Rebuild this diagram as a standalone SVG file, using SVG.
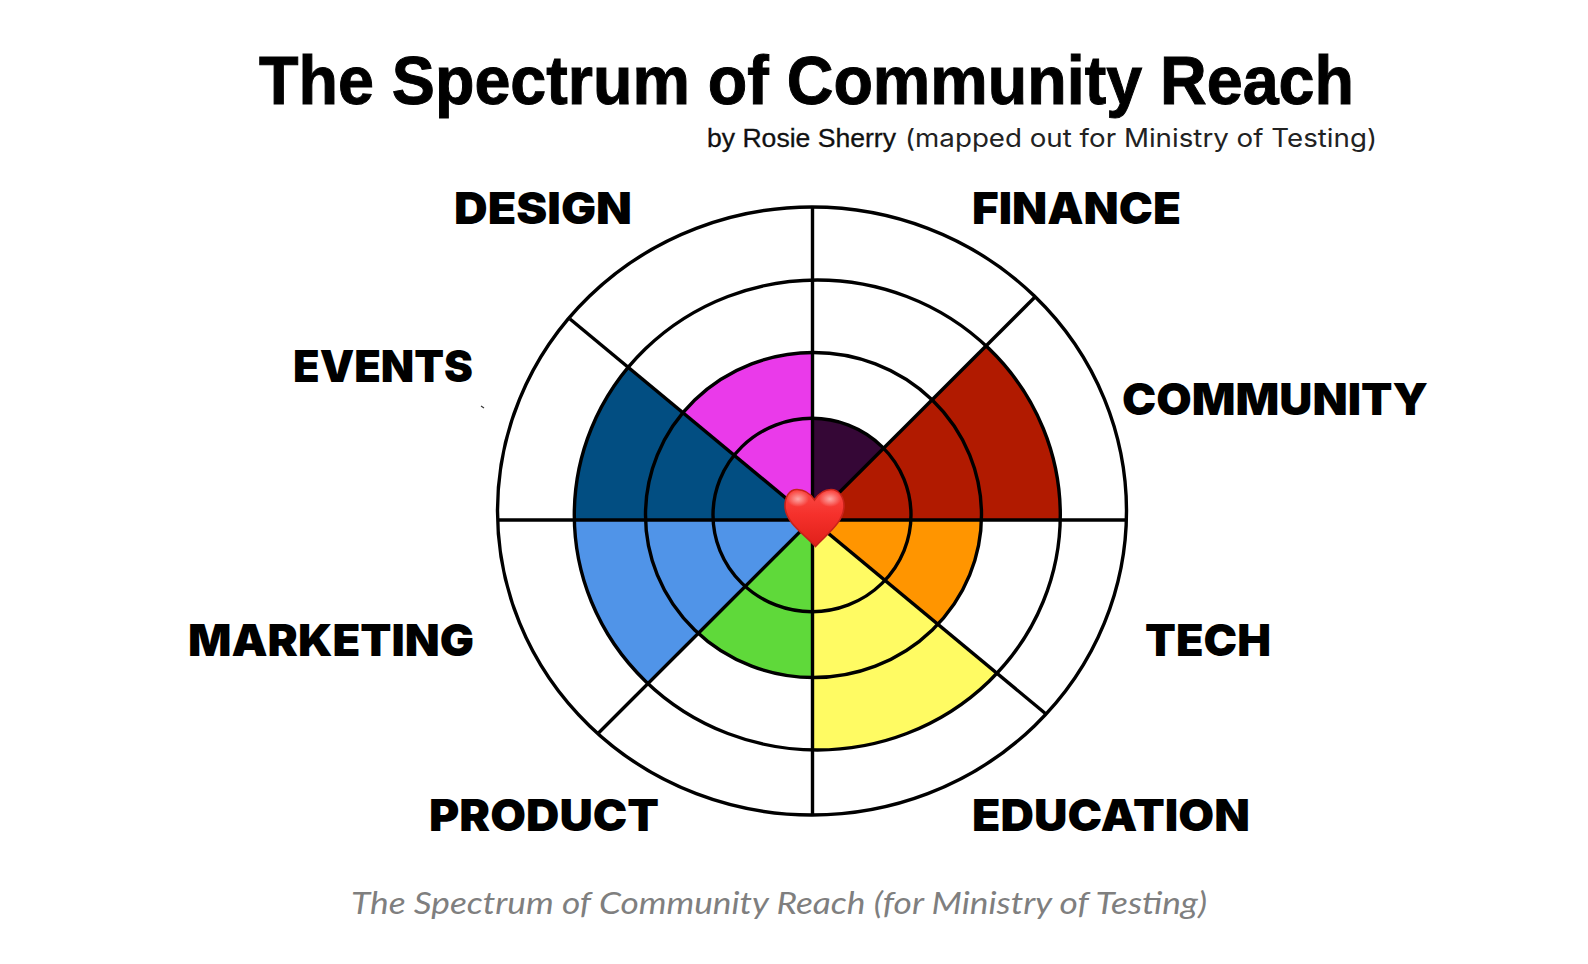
<svg xmlns="http://www.w3.org/2000/svg" width="1588" height="964" viewBox="0 0 1588 964">
<style>
.title{font-family:"Liberation Sans",Arial,sans-serif;font-weight:700;font-size:69px;fill:#000;stroke:#000;stroke-width:1px}
.by{font-family:"Liberation Sans",Arial,sans-serif;font-size:25px;fill:#111;stroke:#111;stroke-width:.3px}
.sub{font-family:"Inter","Liberation Sans",sans-serif;font-size:25px;font-weight:400;fill:#222}
.lab{font-family:"Inter","Liberation Sans",sans-serif;font-weight:900;font-size:44px;fill:#000}
.cap{font-family:"Lato","Liberation Sans",sans-serif;font-style:italic;font-size:31px;fill:#7f7f7f}
.ring{fill:none;stroke:#000;stroke-width:3.4}
.spoke{stroke:#000;stroke-width:3.4;fill:none}
</style>
<defs>
<clipPath id="wFinance"><polygon points="812,520 812,100 1232,100"/></clipPath>
<clipPath id="wCommunity"><polygon points="812,520 1232,100 1400,520"/></clipPath>
<clipPath id="wTech"><polygon points="812,520 1400,520 1280,908"/></clipPath>
<clipPath id="wEducation"><polygon points="812,520 1280,908 812,960"/></clipPath>
<clipPath id="wProduct"><polygon points="812,520 812,960 383,948"/></clipPath>
<clipPath id="wMarketing"><polygon points="812,520 383,948 300,520"/></clipPath>
<clipPath id="wEvents"><polygon points="812,520 300,520 328,118"/></clipPath>
<clipPath id="wDesign"><polygon points="812,520 328,118 812,100"/></clipPath>
<linearGradient id="heartFill" x1="0" y1="0" x2="0" y2="1">
<stop offset="0" stop-color="#fb4a45"/><stop offset=".45" stop-color="#f5302b"/><stop offset="1" stop-color="#e0201a"/>
</linearGradient>
<radialGradient id="heartGlow">
<stop offset="0" stop-color="#fff" stop-opacity=".55"/><stop offset="1" stop-color="#fff" stop-opacity="0"/>
</radialGradient>
</defs>
<rect width="1588" height="964" fill="#fff"/>
<g id="title">
<text class="title" x="259" y="104" textLength="1095" lengthAdjust="spacingAndGlyphs">The Spectrum of Community Reach</text>
<text class="by" x="707" y="147" textLength="189" lengthAdjust="spacingAndGlyphs">by Rosie Sherry</text>
<text class="sub" x="905" y="147" textLength="472" lengthAdjust="spacingAndGlyphs">(mapped out for Ministry of Testing)</text>
</g>
<g id="sectors">
<ellipse cx="812" cy="515" rx="99" ry="96.7" fill="#350736" clip-path="url(#wFinance)"/>
<ellipse cx="817.3" cy="515" rx="243" ry="235" fill="#b11a00" clip-path="url(#wCommunity)"/>
<ellipse cx="813.5" cy="515" rx="168" ry="162.5" fill="#ff9500" clip-path="url(#wTech)"/>
<ellipse cx="817.3" cy="515" rx="243" ry="235" fill="#fffb63" clip-path="url(#wEducation)"/>
<ellipse cx="813.5" cy="515" rx="168" ry="162.5" fill="#5fd93a" clip-path="url(#wProduct)"/>
<ellipse cx="817.3" cy="515" rx="243" ry="235" fill="#5094e8" clip-path="url(#wMarketing)"/>
<ellipse cx="817.3" cy="515" rx="243" ry="235" fill="#024e82" clip-path="url(#wEvents)"/>
<ellipse cx="813.5" cy="515" rx="168" ry="162.5" fill="#ea3aea" clip-path="url(#wDesign)"/>
</g>
<g id="rings">
<ellipse class="ring" cx="812" cy="511" rx="314.5" ry="304"/>
<ellipse class="ring" cx="817.3" cy="515" rx="243" ry="235"/>
<ellipse class="ring" cx="813.5" cy="515" rx="168" ry="162.5"/>
<ellipse class="ring" cx="812" cy="515" rx="99" ry="96.7"/>
</g>
<g id="connectors">
<line class="spoke" x1="812.5" y1="207" x2="812.5" y2="815"/>
<line class="spoke" x1="497" y1="520" x2="1127" y2="520"/>
<line class="spoke" x1="1035" y1="297" x2="597.5" y2="734"/>
<line class="spoke" x1="570" y1="319" x2="1046" y2="714"/>
</g>
<g id="heart">
<path d="M814.5 500C810 493 803 489.5 797 489.5C789 489.5 785 497 785 506C785 522 804 534 815.5 546.5C827 534 844 522 844 506C844 497 839 489.5 831 489.5C825 489.5 819 493 814.5 500Z" fill="url(#heartFill)" stroke="#c8221a" stroke-width="1.6"/>
<ellipse cx="798" cy="499" rx="11" ry="8" fill="url(#heartGlow)"/>
<ellipse cx="830" cy="499" rx="11" ry="8" fill="url(#heartGlow)"/>
</g>
<g id="design"><text class="lab" x="454" y="224" textLength="178" lengthAdjust="spacingAndGlyphs">DESIGN</text></g>
<g id="finance"><text class="lab" x="972" y="224" textLength="209" lengthAdjust="spacingAndGlyphs">FINANCE</text></g>
<g id="events"><text class="lab" x="293" y="382" textLength="180" lengthAdjust="spacingAndGlyphs">EVENTS</text></g>
<g id="community"><text class="lab" x="1122" y="415" textLength="306" lengthAdjust="spacingAndGlyphs">COMMUNITY</text></g>
<g id="marketing"><text class="lab" x="188" y="656" textLength="286" lengthAdjust="spacingAndGlyphs">MARKETING</text></g>
<g id="tech"><text class="lab" x="1145" y="656" textLength="126" lengthAdjust="spacingAndGlyphs">TECH</text></g>
<g id="product"><text class="lab" x="429" y="831" textLength="230" lengthAdjust="spacingAndGlyphs">PRODUCT</text></g>
<g id="education"><text class="lab" x="972" y="831" textLength="278" lengthAdjust="spacingAndGlyphs">EDUCATION</text></g>
<path d="M481 406l3 2" stroke="#333" stroke-width="1.2" fill="none"/>
<text class="cap" x="351" y="914" textLength="856" lengthAdjust="spacingAndGlyphs">The Spectrum of Community Reach (for Ministry of Testing)</text>
</svg>
